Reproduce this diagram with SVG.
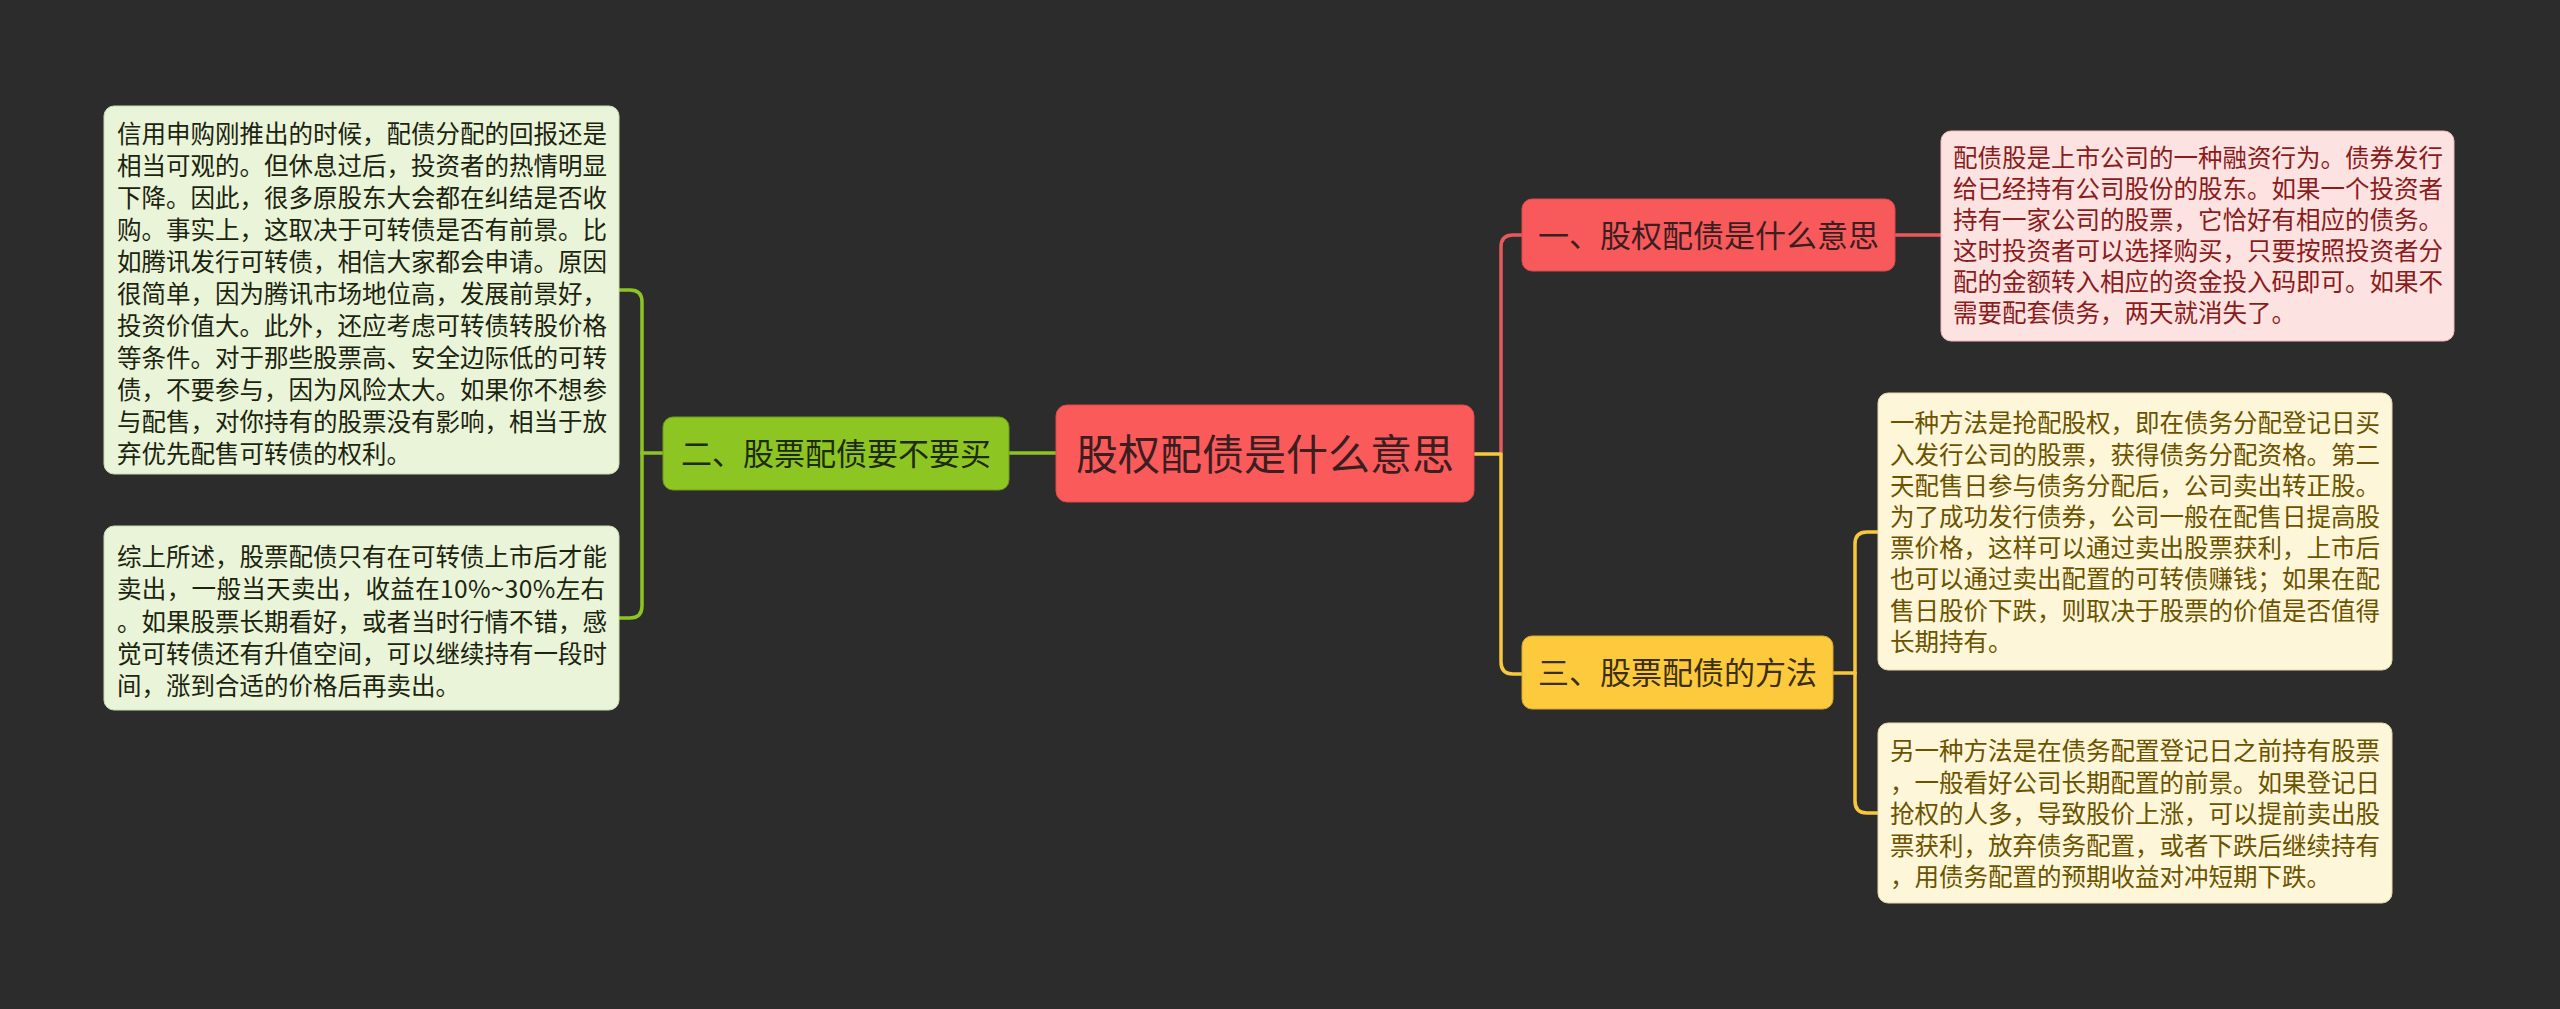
<svg xmlns="http://www.w3.org/2000/svg" width="2560" height="1009" viewBox="0 0 2560 1009">
<style>
.t{font-family:"Noto Sans CJK SC","Noto Sans",sans-serif}
.leaf{font-size:24.5px}
.br{font-size:31px;text-anchor:middle}
.c{fill:none;stroke-width:3.5;stroke-linecap:round;stroke-linejoin:round}
.red{stroke:#e55a5c}
.grn{stroke:#8cc425}
.yel{stroke:#f7c83e}
</style>
<rect width="2560" height="1009" fill="#2c2c2c"/>
<g id="connectors">
<path class="c red" d="M1501,454 V247 Q1501,235 1513,235 H1522"/>
<path class="c yel" d="M1474,454 H1501 V662 Q1501,674 1513,674 H1522"/>
<path class="c red" d="M1895,235 H1941" stroke-width="4.5"/>
<path class="c grn" d="M1056,453 H1009"/>
<path class="c grn" d="M663,453 H642"/>
<path class="c grn" d="M642,453 V302 Q642,290 630,290 H619"/>
<path class="c grn" d="M642,453 V606 Q642,618 630,618 H619"/>
<path class="c yel" d="M1833,673 H1855"/>
<path class="c yel" d="M1855,673 V544 Q1855,532 1867,532 H1878"/>
<path class="c yel" d="M1855,673 V801 Q1855,813 1867,813 H1878"/>
</g>
<g id="central">
<rect x="1056" y="405" width="418" height="97" rx="11" fill="#fb5a5b" stroke="#d94a4c" stroke-width="1"/>
<text class="t" x="1265" y="469.5" font-size="42" text-anchor="middle" fill="#3b1e1f">股权配债是什么意思</text>
</g>
<g id="branch1">
<rect x="1522" y="199" width="373" height="72" rx="10" fill="#f85a5b" stroke="#d94a4c" stroke-width="1"/>
<text class="t br" x="1708.5" y="246.8" fill="#3b1e1f">一、股权配债是什么意思</text>
</g>
<g id="branch2">
<rect x="663" y="417" width="346" height="73" rx="10" fill="#8dc523" stroke="#6f9c18" stroke-width="1"/>
<text class="t br" x="836" y="465.3" fill="#1e2a0c">二、股票配债要不要买</text>
</g>
<g id="branch3">
<rect x="1522" y="636" width="311" height="73" rx="10" fill="#fdca3d" stroke="#d9a92c" stroke-width="1"/>
<text class="t br" x="1677.5" y="684.3" fill="#3b2f10">三、股票配债的方法</text>
</g>
<g id="leaf1">
<rect x="1941" y="131" width="513" height="210" rx="10" fill="#fde2e2" stroke="#efb9b9" stroke-width="1"/>
<text class="t leaf" fill="#8a1c1c">
<tspan x="1953" y="167.3">配债股是上市公司的一种融资行为。债券发行</tspan>
<tspan x="1953" dy="31">给已经持有公司股份的股东。如果一个投资者</tspan>
<tspan x="1953" dy="31">持有一家公司的股票，它恰好有相应的债务。</tspan>
<tspan x="1953" dy="31">这时投资者可以选择购买，只要按照投资者分</tspan>
<tspan x="1953" dy="31">配的金额转入相应的资金投入码即可。如果不</tspan>
<tspan x="1953" dy="31">需要配套债务，两天就消失了。</tspan>
</text>
</g>
<g id="leaf2a">
<rect x="104" y="106" width="515" height="368" rx="10" fill="#e9f4d9" stroke="#c9dcb0" stroke-width="1"/>
<text class="t leaf" fill="#1c2410">
<tspan x="117" y="142.5">信用申购刚推出的时候，配债分配的回报还是</tspan>
<tspan x="117" dy="32">相当可观的。但休息过后，投资者的热情明显</tspan>
<tspan x="117" dy="32">下降。因此，很多原股东大会都在纠结是否收</tspan>
<tspan x="117" dy="32">购。事实上，这取决于可转债是否有前景。比</tspan>
<tspan x="117" dy="32">如腾讯发行可转债，相信大家都会申请。原因</tspan>
<tspan x="117" dy="32">很简单，因为腾讯市场地位高，发展前景好，</tspan>
<tspan x="117" dy="32">投资价值大。此外，还应考虑可转债转股价格</tspan>
<tspan x="117" dy="32">等条件。对于那些股票高、安全边际低的可转</tspan>
<tspan x="117" dy="32">债，不要参与，因为风险太大。如果你不想参</tspan>
<tspan x="117" dy="32">与配售，对你持有的股票没有影响，相当于放</tspan>
<tspan x="117" dy="32">弃优先配售可转债的权利。</tspan>
</text>
</g>
<g id="leaf2b">
<rect x="104" y="526" width="515" height="184" rx="10" fill="#e9f4d9" stroke="#c9dcb0" stroke-width="1"/>
<text class="t leaf" fill="#1c2410">
<tspan x="117" y="566">综上所述，股票配债只有在可转债上市后才能</tspan>
</text>
<text class="t leaf" fill="#1c2410" x="117" y="598.3" textLength="488" lengthAdjust="spacing">卖出，一般当天卖出，收益在10%~30%左右</text>
<text class="t leaf" fill="#1c2410">
<tspan x="117" y="630.6">。如果股票长期看好，或者当时行情不错，感</tspan>
<tspan x="117" dy="32.3">觉可转债还有升值空间，可以继续持有一段时</tspan>
<tspan x="117" dy="32.3">间，涨到合适的价格后再卖出。</tspan>
</text>
</g>
<g id="leaf3a">
<rect x="1878" y="393" width="514" height="277" rx="10" fill="#fdf6d9" stroke="#e6d9a8" stroke-width="1"/>
<text class="t leaf" fill="#6b5300">
<tspan x="1890" y="432.3">一种方法是抢配股权，即在债务分配登记日买</tspan>
<tspan x="1890" dy="31.2">入发行公司的股票，获得债务分配资格。第二</tspan>
<tspan x="1890" dy="31.2">天配售日参与债务分配后，公司卖出转正股。</tspan>
<tspan x="1890" dy="31.2">为了成功发行债券，公司一般在配售日提高股</tspan>
<tspan x="1890" dy="31.2">票价格，这样可以通过卖出股票获利，上市后</tspan>
<tspan x="1890" dy="31.2">也可以通过卖出配置的可转债赚钱；如果在配</tspan>
<tspan x="1890" dy="31.2">售日股价下跌，则取决于股票的价值是否值得</tspan>
<tspan x="1890" dy="31.2">长期持有。</tspan>
</text>
</g>
<g id="leaf3b">
<rect x="1878" y="723" width="514" height="180" rx="10" fill="#fdf6d9" stroke="#e6d9a8" stroke-width="1"/>
<text class="t leaf" fill="#6b5300">
<tspan x="1890" y="760.3">另一种方法是在债务配置登记日之前持有股票</tspan>
<tspan x="1890" dy="31.4">，一般看好公司长期配置的前景。如果登记日</tspan>
<tspan x="1890" dy="31.4">抢权的人多，导致股价上涨，可以提前卖出股</tspan>
<tspan x="1890" dy="31.4">票获利，放弃债务配置，或者下跌后继续持有</tspan>
<tspan x="1890" dy="31.4">，用债务配置的预期收益对冲短期下跌。</tspan>
</text>
</g>
</svg>
